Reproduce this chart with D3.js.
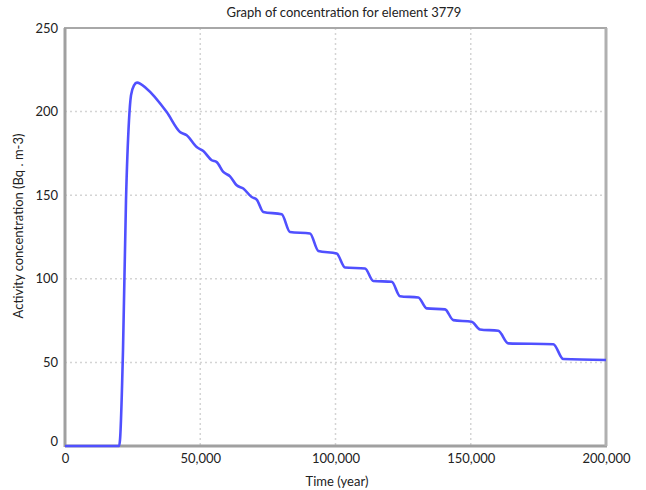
<!DOCTYPE html>
<html><head><meta charset="utf-8">
<script src="https://cdn.jsdelivr.net/npm/d3@7"></script>
<style>
body{margin:0;background:#fff;}
text{font-family:Lato,"Noto Sans",sans-serif;fill:#222;}
</style></head>
<body><svg id="c" width="646" height="490"></svg>
<script>
const title = "Graph of concentration for element 3779";
const xLabel = "Time (year)";
const yLabel = "Activity concentration (Bq . m-3)";
const xTicks = [0, 50000, 100000, 150000, 200000];
const yTicks = [0, 50, 100, 150, 200, 250];
const times = [0, 20000, 20333, 21442, 22551, 23660, 24399, 25508, 26618, 30203, 37597, 42514, 44991, 48688, 51128, 54233, 56082, 58522, 61000, 63475, 65915, 69020, 70869, 73309, 80111, 83180, 90574, 93642, 100445, 103513, 110907, 113976, 120778, 123846, 130612, 133717, 140482, 143550, 150352, 153421, 160186, 163883, 180519, 184216, 200000];
const values = [0, 0, 3.6, 57.3, 147, 194.8, 209.7, 215.7, 217.3, 213.7, 199.7, 187.8, 185.8, 178.8, 176.4, 170.9, 169.8, 163.9, 161.3, 155.9, 154.0, 148.9, 147.4, 140.0, 138.6, 128.0, 127.1, 116.7, 115.1, 106.8, 106.2, 98.7, 98.2, 89.6, 88.8, 82.3, 81.7, 75.3, 74.3, 69.7, 68.9, 61.4, 60.9, 52.0, 51.4];

const svg = d3.select("#c");
const L = 65, R = 606, T = 28, B = 446;
const x = d3.scaleLinear().domain([0, 200000]).range([L, R]);
const y = d3.scaleLinear().domain([0, 250]).range([B, T]);

// grid
svg.append("g").selectAll("line").data(xTicks.slice(1, -1)).join("line")
  .attr("x1", d => x(d)).attr("x2", d => x(d)).attr("y1", T).attr("y2", B)
  .attr("stroke", "#d4d4d4").attr("stroke-width", 1.5).attr("stroke-dasharray", "2,3");
svg.append("g").selectAll("line").data(yTicks.slice(1, -1)).join("line")
  .attr("x1", L).attr("x2", R).attr("y1", d => y(d)).attr("y2", d => y(d))
  .attr("stroke", "#d4d4d4").attr("stroke-width", 1.5).attr("stroke-dasharray", "2,3");

// frame
svg.append("rect").attr("x", L).attr("y", T).attr("width", R - L).attr("height", B - T)
  .attr("fill", "none").attr("stroke", "#a8a8a8").attr("stroke-width", 2);
svg.append("line").attr("x1", L).attr("x2", L).attr("y1", T).attr("y2", B + 1).attr("stroke", "#a0a0a0").attr("stroke-width", 3);
svg.append("line").attr("x1", L).attr("x2", R + 1).attr("y1", B).attr("y2", B).attr("stroke", "#a0a0a0").attr("stroke-width", 3);
svg.append("line").attr("x1", R).attr("x2", R).attr("y1", T).attr("y2", B).attr("stroke", "#b0b0b0").attr("stroke-width", 3);

// axes with d3
const fmt = d3.format(",");
const xAxis = svg.append("g").attr("transform", `translate(0,${B})`)
  .call(d3.axisBottom(x).tickValues(xTicks).tickFormat(fmt).tickSize(0).tickPadding(8));
xAxis.select(".domain").remove();
xAxis.selectAll("text").attr("font-size", 13).attr("font-family", "Lato,'Noto Sans',sans-serif").attr("fill", "#222");
const yAxis = svg.append("g").attr("transform", `translate(${L},0)`)
  .call(d3.axisLeft(y).tickValues(yTicks).tickSize(0).tickPadding(7));
yAxis.select(".domain").remove();
yAxis.selectAll("text").attr("font-size", 13).attr("font-family", "Lato,'Noto Sans',sans-serif").attr("fill", "#222")
  .attr("dy", d => d === 0 ? "-0.05em" : "0.32em");

// line
const pts = times.map((t, i) => [t, values[i]]);
svg.append("path").datum(pts)
  .attr("fill", "none").attr("stroke", "#5050ff").attr("stroke-width", 2.6)
  .attr("stroke-linejoin", "round")
  .attr("d", d3.line().x(d => x(d[0])).y(d => y(d[1])).curve(d3.curveMonotoneX));

// titles
svg.append("text").attr("x", 344).attr("y", 17).attr("text-anchor", "middle").attr("font-size", 13).text(title);
svg.append("text").attr("x", 337).attr("y", 486).attr("text-anchor", "middle").attr("font-size", 13).text(xLabel);
svg.append("text").attr("transform", "translate(23,226) rotate(-90)").attr("text-anchor", "middle").attr("font-size", 13).text(yLabel);
</script></body></html>
